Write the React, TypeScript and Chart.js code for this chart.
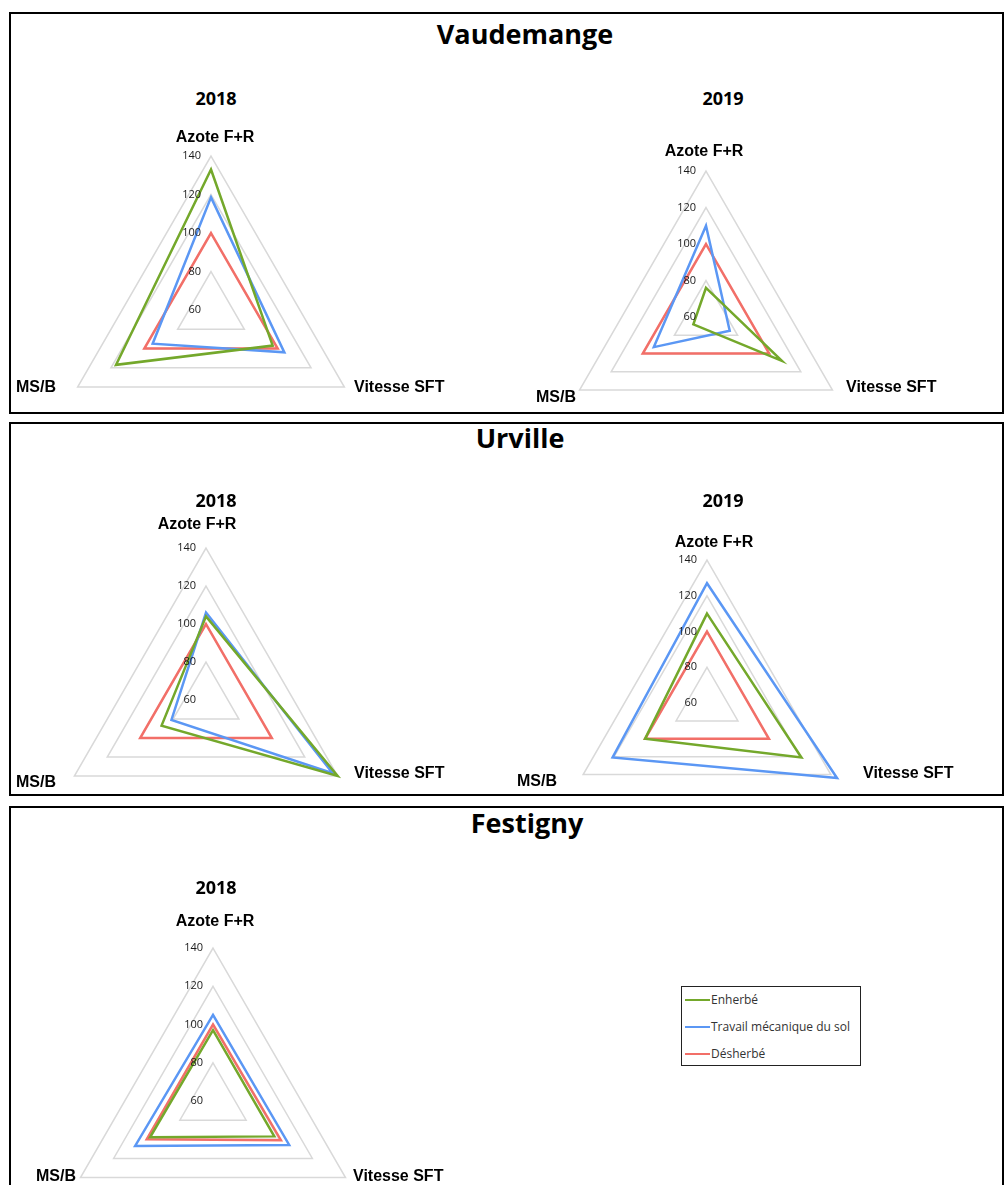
import React, { useEffect, useRef } from "react";
import { Chart, registerables } from "chart.js";

Chart.register(...registerables);

// ---------- DATA ----------
const AXES = ["Azote F+R", "Vitesse SFT", "MS/B"];
const SERIES = ["Enherbé", "Travail mécanique du sol", "Désherbé"];
const TICKS = [60, 80, 100, 120, 140];

const vaud2018Enherbe = [133, 97, 117];
const vaud2018Travail = [118.5, 104, 95];
const vaud2018Desherbe = [100, 100, 100];

const vaud2019Enherbe = [76, 108, 68];
const vaud2019Travail = [110, 75, 93];
const vaud2019Desherbe = [100, 100, 100];

const urv2018Enherbe = [104, 140, 87];
const urv2018Travail = [106, 137, 81];
const urv2018Desherbe = [100, 100, 100];

const urv2019Enherbe = [110, 121, 100];
const urv2019Travail = [127, 144, 121];
const urv2019Desherbe = [100, 100, 100];

const fest2018Enherbe = [97, 97, 98];
const fest2018Travail = [105, 106, 107];
const fest2018Desherbe = [100, 101, 100];

// ---------- STYLE ----------
const COLORS = ["#74a82b", "#5b97f4", "#f26f68"];
const LABEL_FONT = 'bold 16px "Liberation Sans", Arial, sans-serif';
const TITLE_FONT = '"Open Sans", sans-serif';

const tickLabelPlugin = {
  id: "tickLabels",
  afterDraw(chart: any) {
    const s = chart.scales.r;
    const ctx = chart.ctx;
    ctx.save();
    ctx.font = '11px "Open Sans", sans-serif';
    ctx.fillStyle = "#1a1a1a";
    ctx.textAlign = "right";
    ctx.textBaseline = "middle";
    TICKS.forEach((v) => {
      const d = s.getDistanceFromCenterForValue(v);
      ctx.fillText(String(v), s.xCenter - 10, s.yCenter - d);
    });
    ctx.restore();
  },
};

type RadarProps = {
  cx: number;
  cy: number;
  R: number;
  series: number[][];
};

function Radar({ cx, cy, R, series }: RadarProps) {
  const ref = useRef<HTMLCanvasElement>(null);
  const pad = 30;
  const S = 2 * (R + pad);
  useEffect(() => {
    const chart = new Chart(ref.current as HTMLCanvasElement, {
      type: "radar",
      data: {
        labels: AXES,
        datasets: series.map((d, i) => ({
          label: SERIES[i],
          data: d,
          borderColor: COLORS[i],
          backgroundColor: "rgba(0,0,0,0)",
          borderWidth: 2.5,
          pointRadius: 0,
          pointHoverRadius: 0,
          fill: false,
          tension: 0,
          clip: false,
        })),
      },
      options: {
        responsive: false,
        maintainAspectRatio: false,
        animation: false,
        layout: { padding: pad },
        plugins: {
          legend: { display: false },
          tooltip: { enabled: false },
          title: { display: false },
        },
        scales: {
          r: {
            min: 60,
            max: 140,
            ticks: { stepSize: 20, display: false },
            pointLabels: { display: false },
            angleLines: { display: false },
            grid: { color: "#d9d9d9", lineWidth: 1.5 },
          },
        },
      } as any,
      plugins: [tickLabelPlugin],
    });
    return () => chart.destroy();
  }, []);
  return (
    <canvas
      ref={ref}
      width={S}
      height={S}
      style={{ position: "absolute", left: cx - R - pad, top: cy - R - pad, width: S, height: S }}
    />
  );
}

function Text({
  x,
  y,
  children,
  font,
  align = "center",
  color = "#000",
}: {
  x: number;
  y: number;
  children: React.ReactNode;
  font: string;
  align?: "center" | "left" | "right";
  color?: string;
}) {
  const tx = align === "center" ? "-50%" : align === "right" ? "-100%" : "0";
  return (
    <div
      style={{
        position: "absolute",
        left: x,
        top: y,
        transform: `translate(${tx}, -50%)`,
        font,
        lineHeight: 1,
        whiteSpace: "nowrap",
        color,
      }}
    >
      {children}
    </div>
  );
}

type ChartSpec = {
  cx: number;
  cy: number;
  R: number;
  year: string;
  yearPos: [number, number];
  azote: [number, number];
  msb: [number, number];
  vit: [number, number];
  series: number[][];
};

const CHARTS: ChartSpec[] = [
  {
    cx: 211, cy: 310, R: 154, year: "2018", yearPos: [216, 98],
    azote: [215, 137], msb: [56, 387], vit: [354, 387],
    series: [vaud2018Enherbe, vaud2018Travail, vaud2018Desherbe],
  },
  {
    cx: 706, cy: 317, R: 146, year: "2019", yearPos: [723, 98],
    azote: [704, 151], msb: [576, 397], vit: [846, 387],
    series: [vaud2019Enherbe, vaud2019Travail, vaud2019Desherbe],
  },
  {
    cx: 206, cy: 700, R: 152, year: "2018", yearPos: [216, 500],
    azote: [197, 524], msb: [56, 782], vit: [354, 773],
    series: [urv2018Enherbe, urv2018Travail, urv2018Desherbe],
  },
  {
    cx: 707, cy: 703, R: 143, year: "2019", yearPos: [723, 500],
    azote: [714, 542], msb: [557, 781], vit: [863, 773],
    series: [urv2019Enherbe, urv2019Travail, urv2019Desherbe],
  },
  {
    cx: 213, cy: 1101, R: 153, year: "2018", yearPos: [216, 887],
    azote: [215, 921], msb: [76, 1176], vit: [353, 1176],
    series: [fest2018Enherbe, fest2018Travail, fest2018Desherbe],
  },
];

const PANELS = [
  { top: 12, bottom: 414, title: "Vaudemange", tx: 525, ty: 33 },
  { top: 422, bottom: 796, title: "Urville", tx: 520, ty: 437 },
  { top: 806, bottom: 1210, title: "Festigny", tx: 527, ty: 822 },
];

export default function App() {
  return (
    <div
      style={{
        position: "absolute",
        left: 0,
        top: 0,
        width: 1005,
        height: 1185,
        overflow: "hidden",
        background: "#fff",
      }}
    >
      {PANELS.map((p, i) => (
        <div
          key={"p" + i}
          style={{
            position: "absolute",
            left: 9,
            top: p.top,
            width: 1004 - 9,
            height: p.bottom - p.top,
            border: "2px solid #000",
            boxSizing: "border-box",
          }}
        />
      ))}
      {PANELS.map((p, i) => (
        <Text key={"t" + i} x={p.tx} y={p.ty} font={`bold 27px ${TITLE_FONT}`}>
          {p.title}
        </Text>
      ))}
      {CHARTS.map((c, i) => (
        <React.Fragment key={"c" + i}>
          <Radar cx={c.cx} cy={c.cy} R={c.R} series={c.series} />
          <Text x={c.yearPos[0]} y={c.yearPos[1]} font={`bold 18px ${TITLE_FONT}`}>
            {c.year}
          </Text>
          <Text x={c.azote[0]} y={c.azote[1]} font={LABEL_FONT}>
            {AXES[0]}
          </Text>
          <Text x={c.vit[0]} y={c.vit[1]} font={LABEL_FONT} align="left">
            {AXES[1]}
          </Text>
          <Text x={c.msb[0]} y={c.msb[1]} font={LABEL_FONT} align="right">
            {AXES[2]}
          </Text>
        </React.Fragment>
      ))}
      <div
        style={{
          position: "absolute",
          left: 681,
          top: 986,
          width: 180,
          height: 80,
          border: "1px solid #222",
          boxSizing: "border-box",
        }}
      />
      {SERIES.map((s, i) => (
        <React.Fragment key={"l" + i}>
          <div
            style={{
              position: "absolute",
              left: 685,
              top: 999 + i * 27,
              width: 25,
              height: 2,
              background: COLORS[i],
            }}
          />
          <Text x={711} y={1000 + i * 27} font={'12px "Open Sans", sans-serif'} align="left" color="#333">
            {s}
          </Text>
        </React.Fragment>
      ))}
    </div>
  );
}
